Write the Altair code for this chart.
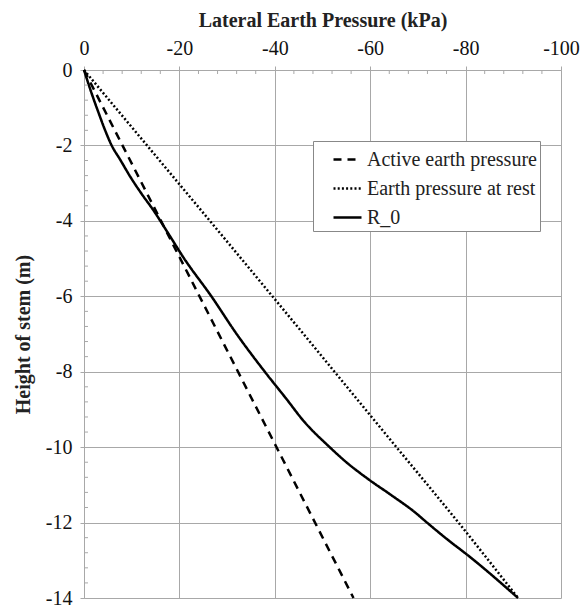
import altair as alt
import pandas as pd

# ---- data ----
active_h = [0, -14]
active_p = [0, -56.5]

rest_h = [0, -6, -10, -12, -14]
rest_p = [0, -39.5, -65.5, -78.5, -91.0]

r0_h = [0, -0.62, -1.15, -1.59, -2.0, -2.38, -2.83, -3.27, -3.71, -4.3, -5.0, -6.0,
        -7.0, -8.0, -8.7, -9.3, -10.0, -10.4, -10.84, -11.28, -11.72, -12.0,
        -12.47, -12.87, -14.0]
r0_p = [0, -1.6, -3.1, -4.4, -5.8, -7.6, -9.7, -12.0, -14.5, -17.5, -21.0, -26.7,
        -32.0, -37.9, -42.3, -46.0, -51.5, -55.0, -59.5, -64.5, -69.3, -71.9,
        -76.4, -80.5, -91.0]

series_names = ["Active earth pressure", "Earth pressure at rest", "R_0"]

x_major = [0, -20, -40, -60, -80, -100]
y_major = [0, -2, -4, -6, -8, -10, -12, -14]
x_minor = [-4, -8, -12, -16, -24, -28, -32, -36, -44, -48, -52, -56,
           -64, -68, -72, -76, -84, -88, -92, -96]
y_minor = [-0.4, -0.8, -1.2, -1.6, -2.4, -2.8, -3.2, -3.6, -4.4, -4.8, -5.2, -5.6,
           -6.4, -6.8, -7.2, -7.6, -8.4, -8.8, -9.2, -9.6, -10.4, -10.8, -11.2,
           -11.6, -12.4, -12.8, -13.2, -13.6]

rows = []
for name, hs, ps in [(series_names[0], active_h, active_p),
                     (series_names[1], rest_h, rest_p),
                     (series_names[2], r0_h, r0_p)]:
    for i, (h, p) in enumerate(zip(hs, ps)):
        rows.append({"series": name, "h": h, "p": p, "i": i})
df = pd.DataFrame(rows)

FONT = "Liberation Serif"
GRID = "#a8a8a8"

xscale = alt.Scale(domain=[-100, 0], reverse=True, nice=False, zero=False)
yscale = alt.Scale(domain=[-14, 0], nice=False, zero=False)

lines = alt.Chart(df).mark_line(color="black", strokeWidth=2.5, interpolate="monotone").encode(
    x=alt.X("p:Q", scale=xscale,
            axis=alt.Axis(orient="top", title="Lateral Earth Pressure (kPa)",
                          values=x_major, labelExpr="'' + datum.value",
                          grid=True, gridColor=GRID, gridWidth=1,
                          domainColor=GRID, tickColor=GRID, tickSize=4,
                          labelFont=FONT, labelFontSize=20, labelColor="#111",
                          labelPadding=8, labelFlush=False,
                          titleFont=FONT, titleFontSize=20, titleFontWeight="bold",
                          titleColor="#222", titlePadding=8)),
    y=alt.Y("h:Q", scale=yscale,
            axis=alt.Axis(orient="left", title="Height of stem (m)",
                          values=y_major, labelExpr="'' + datum.value",
                          grid=True, gridColor=GRID, gridWidth=1,
                          domainColor=GRID, tickColor=GRID, tickSize=4,
                          labelFont=FONT, labelFontSize=20, labelColor="#111",
                          labelPadding=8, labelFlush=False,
                          titleFont=FONT, titleFontSize=20, titleFontWeight="bold",
                          titleColor="#222", titlePadding=12)),
    strokeDash=alt.StrokeDash(
        "series:N",
        scale=alt.Scale(domain=series_names, range=[[8, 6], [2, 2.2], [1, 0]]),
        legend=alt.Legend(title=None, orient="none", legendX=229, legendY=71,
                          symbolType="stroke", symbolSize=784,
                          symbolStrokeWidth=2.5, symbolStrokeColor="black",
                          labelFont=FONT, labelFontSize=20, labelColor="#222",
                          labelLimit=400,
                          fillColor="white", strokeColor="#888",
                          padding=3, rowPadding=3, symbolOffset=16, labelOffset=4)),
    order="i:Q",
)

xminor = alt.Chart(pd.DataFrame({"p": x_minor})).mark_rule(color=GRID, strokeWidth=1).encode(
    x=alt.X("p:Q", scale=xscale),
    y=alt.value(0), y2=alt.value(4),
)
yminor = alt.Chart(pd.DataFrame({"h": y_minor})).mark_rule(color=GRID, strokeWidth=1).encode(
    y=alt.Y("h:Q", scale=yscale),
    x=alt.value(0), x2=alt.value(4),
)

chart = alt.layer(lines, xminor, yminor).properties(
    width=477, height=528,
    autosize=alt.AutoSizeParams(type="none"),
    padding={"left": 84, "top": 70, "right": 22, "bottom": 10},
    background="white",
).configure_view(stroke=None)

chart.save("out.html", embed_options={"renderer": "svg", "actions": False})
